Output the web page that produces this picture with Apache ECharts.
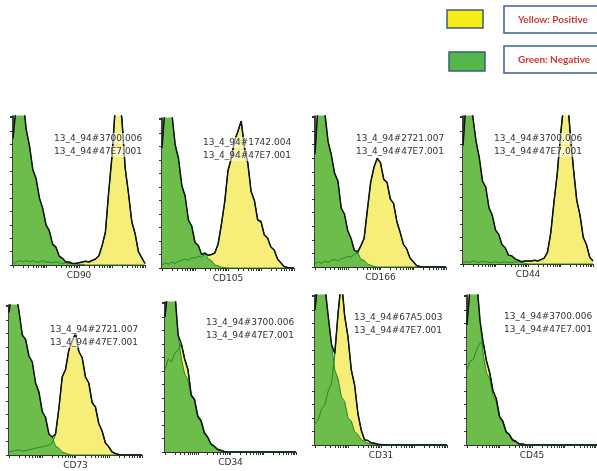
<!DOCTYPE html>
<html>
<head>
<meta charset="utf-8">
<script src="https://cdn.jsdelivr.net/npm/echarts@6/dist/echarts.min.js"></script>
<style>
  html, body { margin: 0; padding: 0; background: #fff; }
  #chart { width: 597px; height: 471px; }
</style>
</head>
<body>
<div id="chart"></div>
<script>
// markers shown in each panel
const markers = ["CD90", "CD105", "CD166", "CD44", "CD73", "CD34", "CD31", "CD45"];
// sample ids printed in each panel (positive, negative)
const posSamples = ["13_4_94#3700.006", "13_4_94#1742.004", "13_4_94#2721.007", "13_4_94#3700.006",
                    "13_4_94#2721.007", "13_4_94#3700.006", "13_4_94#67A5.003", "13_4_94#3700.006"];
const negSamples = ["13_4_94#47E7.001", "13_4_94#47E7.001", "13_4_94#47E7.001", "13_4_94#47E7.001",
                    "13_4_94#47E7.001", "13_4_94#47E7.001", "13_4_94#47E7.001", "13_4_94#47E7.001"];

// histogram counts (% of max), 41 bins over 4 log decades
const cd90Neg  = [85,108,116,112,91,80,64,58,45,38, 27,23,14,12,6,4.5,2,2,0.8,1, 0.3,0.5,0,0,0,0,0,0,0,0, 0,0,0,0,0,0,0,0,0,0, 0];
const cd90Pos  = [1,2,3,2,3,2,3,2,2,3, 2,2,1.5,2,1.5,1,1.5,1,1,1, 1.5,2,2.5,2,3,4,6,13,22,49, 73,106,114,98,65,48,29,21,9,5, 1];
const cd105Neg = [80,110,113,103,82,73,55,48,32,28, 17,15,9,10,6,5,2,1.5,0.5,0.3, 0,0,0,0,0,0,0,0,0,0, 0,0,0,0,0,0,0,0,0,0, 0];
const cd105Pos = [2,3.5,2.5,4,3,4.5,5,6,5,7, 6.5,8,7,9.5,8.5,9,10,16,29,44, 65,73,85,91,98,80,70,51,45,32, 31,22,20,14,12,6,3.5,1,0.3,0, 0];
const cd166Neg = [75,110,113,102,83,74,62,57,39,35, 24,19,11,10,5,4.5,2,1.2,0.4,0, 0,0,0,0,0,0,0,0,0,0, 0,0,0,0,0,0,0,0,0,0, 0];
const cd166Pos = [2,3.5,2.5,4,3,4.5,5,4,5.5,6, 7,6.5,8.5,9,14,19,38,56,66,72, 69,58,56,45,42,30,23,15,12,6, 3.5,1,0.3,0,0,0,0,0,0,0, 0];
const cd44Neg  = [80,112,110,100,83,72,56,52,38,33, 23,20,13,11,6,5.5,3.5,2.5,1,0.5, 0,0,0,0,0,0,0,0,0,0, 0,0,0,0,0,0,0,0,0,0, 0];
const cd44Pos  = [1,1.5,1,2,1.5,1,2,1.5,1,1, 1.5,1,1,1.5,1,1,1.5,1.5,1.5,2, 2,2,2.5,2,3,4,8,21,42,61, 87,108,116,88,64,43,33,18,13,4.5, 2];
const cd73Neg  = [95,113,109,96,80,77,66,62,48,42, 29,25,14,12,6,4.5,2,1.2,0.4,0, 0,0,0,0,0,0,0,0,0,0, 0,0,0,0,0,0,0,0,0,0, 0];
const cd73Pos  = [2,2.5,3,3.5,2.5,3,3.5,4,4.5,5, 5.5,6,6.5,8,14,31,52,57,70,76, 81,69,65,52,48,35,32,21,16,8, 5.5,2,1,0.3,0,0,0,0,0,0, 0];
const cd34Neg  = [90,112,113,107,78,62,52,48,37,35, 23,20,12,10,4.5,3.5,1.2,0.8,0.3,0, 0,0,0,0,0,0,0,0,0,0, 0,0,0,0,0,0,0,0,0,0, 0];
const cd34Pos  = [55,62,60,66,68,72,62,55,38,35, 24,21,13,10,5.5,4,1.8,1.2,0.4,0, 0,0,0,0,0,0,0,0,0,0, 0,0,0,0,0,0,0,0,0,0, 0];
const cd31Neg  = [90,113,109,106,86,67,50,44,32,29, 18,16,9,7,3.5,2.5,1.2,1,0.3,0, 0,0,0,0,0,0,0,0,0,0, 0,0,0,0,0,0,0,0,0,0, 0];
const cd31Pos  = [14,17,24,27,36,41,61,88,110,86, 72,50,40,21,10,3.5,3,1.5,1.2,0.5, 0.3,0,0,0,0,0,0,0,0,0, 0,0,0,0,0,0,0,0,0,0, 0];
const cd45Neg  = [80,107,110,109,83,60,48,44,33,29, 18,15,8,7,2.5,2.2,0.8,0.3,0,0, 0,0,0,0,0,0,0,0,0,0, 0,0,0,0,0,0,0,0,0,0, 0];
const cd45Pos  = [50,56,57,64,68,68,56,48,36,31, 19,16,9,7,3.5,2.5,0.8,0.6,0.2,0, 0,0,0,0,0,0,0,0,0,0, 0,0,0,0,0,0,0,0,0,0, 0];

const negData = [cd90Neg, cd105Neg, cd166Neg, cd44Neg, cd73Neg, cd34Neg, cd31Neg, cd45Neg];
const posData = [cd90Pos, cd105Pos, cd166Pos, cd44Pos, cd73Pos, cd34Pos, cd31Pos, cd45Pos];

// panel boxes (px)
const boxes = [
  { left: 13, top: 116, width: 132, height: 149 },
  { left: 162, top: 118, width: 132, height: 150 },
  { left: 315, top: 116, width: 131, height: 151 },
  { left: 463, top: 116, width: 130, height: 148 },
  { left: 9, top: 305, width: 133, height: 152 },
  { left: 165, top: 302, width: 131, height: 150 },
  { left: 315, top: 295, width: 132, height: 150 },
  { left: 467, top: 295, width: 132, height: 150 }
];
// where the sample id text sits in each panel (left, top of first line)
const idPos = [[53, 133], [202, 137], [355, 133], [493, 133], [49, 324], [205, 317], [353, 312], [503, 311]];

// log decade tick positions
const logTicks = [];
for (let d = 0; d < 4; d++) {
  for (let k = 1; k <= 9; k++) logTicks.push(d + Math.log10(k));
}
logTicks.push(4);

const binX = negData[0].map((v, i) => i / 10);

const chart = echarts.init(document.getElementById("chart"));

const grid = [], xAxis = [], yAxis = [], series = [], graphic = [];

boxes.forEach((b, p) => {
  grid.push(Object.assign({}, b));
  xAxis.push({
    gridIndex: p, type: "value", min: 0, max: 4,
    name: markers[p], nameLocation: "middle", nameGap: 6,
    nameTextStyle: { fontFamily: "DejaVu Sans", fontSize: 9, color: "#333", verticalAlign: "top" },
    axisLine: { onZero: false, lineStyle: { color: "#333", width: 1 } },
    axisTick: { show: true, length: 3, customValues: logTicks, lineStyle: { color: "#333" } },
    axisLabel: { show: false },
    splitLine: { show: false }
  });
  yAxis.push({
    gridIndex: p, type: "value", min: 0, max: 100, interval: 9,
    axisLine: { show: true, lineStyle: { color: "#000", width: 1.5 } },
    axisTick: { show: true, length: 3, lineStyle: { color: "#333" } },
    axisLabel: { show: false },
    splitLine: { show: false }
  });

  const pos = posData[p], neg = negData[p];
  const toPts = arr => arr.map((v, i) => [binX[i], v]);
  const env = pos.map((v, i) => Math.max(v, neg[i]));
  const common = { xAxisIndex: p, yAxisIndex: p, type: "line", showSymbol: false, symbol: "none", silent: true };

  series.push(Object.assign({}, common, {
    name: "pos" + p, data: toPts(pos), z: 2,
    lineStyle: { color: "#2a8a2a", width: 1 },
    areaStyle: { color: "#f6ee78", opacity: 1 }
  }));
  series.push(Object.assign({}, common, {
    name: "neg" + p, data: toPts(neg), z: 3,
    lineStyle: { color: "#1f8a2a", width: 1 },
    areaStyle: { color: "#6cbd4c", opacity: 1 }
  }));
  series.push(Object.assign({}, common, {
    name: "posLine" + p, data: toPts(pos), z: 4,
    lineStyle: { color: "#1f8a2a", width: 1 }
  }));
  series.push(Object.assign({}, common, {
    name: "env" + p, data: toPts(env), z: 5,
    lineStyle: { color: "#111", width: 1.5 }
  }));

  [posSamples[p], negSamples[p]].forEach((t, j) => {
    graphic.push({
      type: "text", left: idPos[p][0], top: idPos[p][1] + j * 13, z: 100,
      style: {
        text: t, fontFamily: "DejaVu Sans", fontSize: 9, fill: "#333",
        backgroundColor: "rgba(255,255,255,0.55)", padding: [1, 1]
      }
    });
  });
});

// legend boxes
graphic.push(
  { type: "rect", shape: { x: 447, y: 10, width: 36, height: 18 }, style: { fill: "#f7ec17", stroke: "#3d5e78", lineWidth: 1.5 }, z: 100 },
  { type: "rect", shape: { x: 449, y: 52, width: 36, height: 19 }, style: { fill: "#52b748", stroke: "#3d5e78", lineWidth: 1.5 }, z: 100 },
  { type: "rect", shape: { x: 504, y: 6, width: 96, height: 27 }, style: { fill: "#fff", stroke: "#3b5f98", lineWidth: 1.5 }, z: 100 },
  { type: "rect", shape: { x: 504, y: 46, width: 96, height: 27 }, style: { fill: "#fff", stroke: "#3b5f98", lineWidth: 1.5 }, z: 100 },
  { type: "text", x: 518, y: 20, z: 101, style: { text: "Yellow: Positive", fontFamily: "Lato", fontSize: 10, fontWeight: "bold", fill: "#cc3a35", verticalAlign: "middle" } },
  { type: "text", x: 518, y: 60, z: 101, style: { text: "Green: Negative", fontFamily: "Lato", fontSize: 10, fontWeight: "bold", fill: "#cc3a35", verticalAlign: "middle" } }
);

chart.setOption({
  animation: false,
  grid: grid,
  xAxis: xAxis,
  yAxis: yAxis,
  series: series,
  graphic: graphic
});
</script>
</body>
</html>
